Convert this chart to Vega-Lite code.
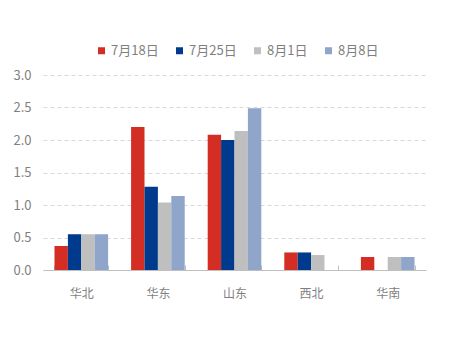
{
  "$schema": "https://vega.github.io/schema/vega-lite/v6.json",
  "autosize": {"type": "none"},
  "width": 383,
  "height": 195,
  "padding": {"left": 43, "top": 75, "right": 24, "bottom": 70},
  "background": "white",
  "config": {
    "font": "Noto Sans CJK SC",
    "view": {"stroke": null}
  },
  "data": {
    "values": [
      {"region": "华北", "date": "7月18日", "value": 0.37},
      {"region": "华北", "date": "7月25日", "value": 0.55},
      {"region": "华北", "date": "8月1日", "value": 0.55},
      {"region": "华北", "date": "8月8日", "value": 0.55},
      {"region": "华东", "date": "7月18日", "value": 2.2},
      {"region": "华东", "date": "7月25日", "value": 1.28},
      {"region": "华东", "date": "8月1日", "value": 1.04},
      {"region": "华东", "date": "8月8日", "value": 1.14},
      {"region": "山东", "date": "7月18日", "value": 2.08},
      {"region": "山东", "date": "7月25日", "value": 2.0},
      {"region": "山东", "date": "8月1日", "value": 2.14},
      {"region": "山东", "date": "8月8日", "value": 2.49},
      {"region": "西北", "date": "7月18日", "value": 0.27},
      {"region": "西北", "date": "7月25日", "value": 0.27},
      {"region": "西北", "date": "8月1日", "value": 0.23},
      {"region": "华南", "date": "7月18日", "value": 0.2},
      {"region": "华南", "date": "8月1日", "value": 0.2},
      {"region": "华南", "date": "8月8日", "value": 0.2}
    ]
  },
  "mark": {"type": "bar"},
  "encoding": {
    "x": {
      "field": "region",
      "type": "nominal",
      "sort": ["华北", "华东", "山东", "西北", "华南"],
      "scale": {"paddingInner": 0.3, "paddingOuter": 0.15},
      "axis": {
        "title": null,
        "labelAngle": 0,
        "labelColor": "#7F7F7F",
        "labelFontSize": 12,
        "labelPadding": 23,
        "domainColor": "#BFBFBF",
        "tickColor": "#BFBFBF",
        "tickSize": -5,
        "tickBand": "extent",
        "grid": false
      }
    },
    "xOffset": {
      "field": "date",
      "type": "nominal",
      "sort": ["7月18日", "7月25日", "8月1日", "8月8日"],
      "scale": {"paddingInner": 0, "paddingOuter": 0}
    },
    "y": {
      "field": "value",
      "type": "quantitative",
      "scale": {"domain": [0, 3]},
      "axis": {
        "title": null,
        "values": [0, 0.5, 1, 1.5, 2, 2.5, 3],
        "format": ".1f",
        "labelColor": "#7F7F7F",
        "labelFontSize": 13,
        "labelPadding": 12,
        "ticks": false,
        "domain": false,
        "gridColor": "#D9D9D9",
        "gridDash": [4, 3]
      }
    },
    "color": {
      "field": "date",
      "type": "nominal",
      "sort": ["7月18日", "7月25日", "8月1日", "8月8日"],
      "scale": {
        "domain": ["7月18日", "7月25日", "8月1日", "8月8日"],
        "range": ["#D42E24", "#003A8C", "#BFBFBF", "#8FA5CA"]
      },
      "legend": {
        "title": null,
        "orient": "none",
        "direction": "horizontal",
        "legendX": 52,
        "legendY": -31,
        "symbolType": "square",
        "symbolSize": 49,
        "symbolStrokeWidth": 0,
        "labelColor": "#7F7F7F",
        "labelFontSize": 13,
        "labelOffset": 3,
        "columnPadding": 14
      }
    }
  }
}
